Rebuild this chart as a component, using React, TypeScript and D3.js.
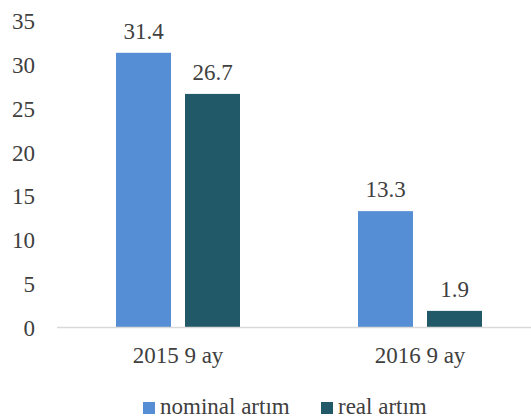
import React from "react";
import * as d3 from "d3";

const categories = ["2015 9 ay", "2016 9 ay"];
const seriesNames = ["nominal artım", "real artım"];
const nominalValues = [31.4, 13.3];
const realValues = [26.7, 1.9];
const yTicks = [0, 5, 10, 15, 20, 25, 30, 35];
const colors = ["#558ED5", "#215968"];

const W = 531;
const H = 418;
const FONT = '"Liberation Serif", "Times New Roman", serif';
const TEXT = "#404040";
const txt = { fontFamily: FONT, fontSize: "23px", fill: TEXT } as React.CSSProperties;

export default function App() {
  const x0 = d3.scaleBand<string>().domain(categories).range([57, 541]).paddingInner(0).paddingOuter(0);
  const y = d3.scaleLinear().domain([0, 35]).range([327.5, 21.3]);
  const barW = 55;
  const gap = 14;
  const series = [nominalValues, realValues];

  return (
    <svg width={W} height={H} style={{ position: "absolute", left: 0, top: 0, background: "#fff" }}>
      {yTicks.map((t) => (
        <text key={t} x={35} y={y(t)} dy="0.35em" textAnchor="end" style={txt}>
          {t}
        </text>
      ))}
      {categories.map((c, ci) => {
        const cx = (x0(c) as number) + x0.bandwidth() / 2;
        return (
          <g key={c}>
            {series.map((vals, si) => {
              const bx = cx - gap / 2 - barW + si * (barW + gap);
              const v = vals[ci];
              return (
                <g key={si}>
                  <rect x={bx} y={y(v)} width={barW} height={y(0) - y(v)} fill={colors[si]} />
                  <text x={bx + barW / 2} y={y(v) - 14} textAnchor="middle" style={txt}>
                    {v.toFixed(1)}
                  </text>
                </g>
              );
            })}
            <text x={cx} y={363} textAnchor="middle" style={txt}>
              {c}
            </text>
          </g>
        );
      })}
      <line x1={57} x2={541} y1={y(0)} y2={y(0)} stroke="#d9d9d9" strokeWidth={1.5} />
      {seriesNames.map((s, i) => {
        const lx = i === 0 ? 143 : 321;
        return (
          <g key={s}>
            <rect x={lx} y={402} width={12} height={12} fill={colors[i]} />
            <text x={lx + 17} y={414} style={txt}>
              {s}
            </text>
          </g>
        );
      })}
    </svg>
  );
}
